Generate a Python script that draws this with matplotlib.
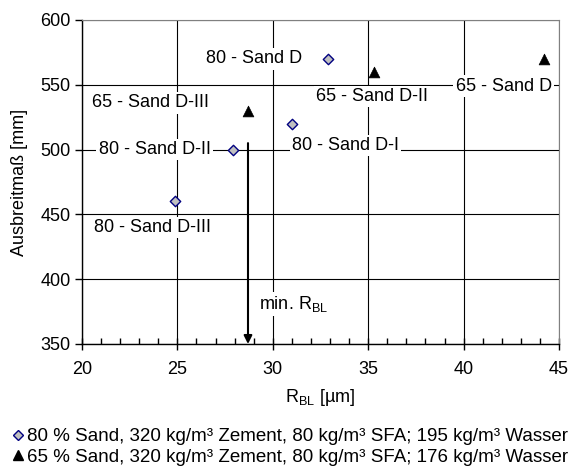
import matplotlib
matplotlib.use("Agg")
import matplotlib.pyplot as plt
from matplotlib.ticker import MultipleLocator
from matplotlib.lines import Line2D

plt.rcParams['font.family'] = ['Liberation Sans', 'DejaVu Sans']
plt.rcParams['mathtext.fontset'] = 'custom'
plt.rcParams['mathtext.rm'] = 'Liberation Sans'
plt.rcParams['mathtext.it'] = 'Liberation Sans'

# Mix with 80 % sand
names_80 = ["80 - Sand D", "80 - Sand D-I", "80 - Sand D-II", "80 - Sand D-III"]
rbl_80 = [32.9, 31.0, 27.9, 24.9]
spread_80 = [570, 520, 500, 460]

# Mix with 65 % sand
names_65 = ["65 - Sand D", "65 - Sand D-II", "65 - Sand D-III"]
rbl_65 = [44.2, 35.3, 28.7]
spread_65 = [570, 560, 530]

min_rbl = 28.7

legend_labels = [
    "80 % Sand, 320 kg/m³ Zement, 80 kg/m³ SFA; 195 kg/m³ Wasser",
    "65 % Sand, 320 kg/m³ Zement, 80 kg/m³ SFA; 176 kg/m³ Wasser",
]

# label anchor positions (data coordinates, centred)
label_pos = {
    "80 - Sand D": (29.0, 570),
    "80 - Sand D-I": (33.8, 503),
    "80 - Sand D-II": (23.8, 500),
    "80 - Sand D-III": (23.7, 440),
    "65 - Sand D": (42.1, 549),
    "65 - Sand D-II": (35.2, 541),
    "65 - Sand D-III": (23.6, 536),
}

FS = 13
fig = plt.figure(figsize=(5.72, 4.67), dpi=100)
ax = fig.add_axes([82 / 572, 1 - 344 / 467, (559 - 82) / 572, (344 - 20) / 467])

ax.set_xlim(20, 45)
ax.set_ylim(350, 600)
ax.xaxis.set_major_locator(MultipleLocator(5))
ax.xaxis.set_minor_locator(MultipleLocator(1))
ax.yaxis.set_major_locator(MultipleLocator(50))

ax.grid(True, which='major', color='black', linewidth=0.8, zorder=0)
ax.set_axisbelow(True)

for side in ('top', 'right'):
    ax.spines[side].set_color('#808080')
for side in ('left', 'bottom'):
    ax.spines[side].set_color('black')
    ax.spines[side].set_linewidth(1.0)

ax.tick_params(axis='x', which='major', direction='inout', length=8, width=1.0,
               labelsize=FS, pad=8)
ax.tick_params(axis='x', which='minor', direction='in', length=4, width=1.0)
ax.tick_params(axis='y', which='major', direction='out', length=5, width=1.0,
               labelsize=FS, pad=3)

ax.scatter(rbl_80, spread_80, marker='D', s=28, facecolor='#C0C0C0',
           edgecolor='#000080', linewidth=1.0, zorder=4)
ax.scatter(rbl_65, spread_65, marker='^', s=60, facecolor='black',
           edgecolor='black', linewidth=0.5, zorder=4)

for name in names_80 + names_65:
    x, y = label_pos[name]
    ax.text(x, y, name, fontsize=FS, ha='center', va='center', zorder=3,
            bbox=dict(facecolor='white', edgecolor='none', pad=1.5))

ax.annotate('', xy=(min_rbl, 350), xytext=(min_rbl, 505),
            arrowprops=dict(arrowstyle='-|>', color='black', lw=1.5,
                            mutation_scale=12, shrinkA=0, shrinkB=0), zorder=5)
ax.text(29.3, 381, r'min. R$_\mathregular{BL}$', fontsize=FS, ha='left',
        va='center', zorder=3,
        bbox=dict(facecolor='white', edgecolor='none', pad=1.5))

ax.set_xlabel(r'R$_\mathregular{BL}$ [µm]', fontsize=FS, labelpad=7)
ax.set_ylabel('Ausbreitmaß [mm]', fontsize=FS, labelpad=9)

handles = [
    Line2D([], [], marker='D', linestyle='none', markersize=5,
           markerfacecolor='#C0C0C0', markeredgecolor='#000080'),
    Line2D([], [], marker='^', linestyle='none', markersize=7,
           markerfacecolor='black', markeredgecolor='black'),
]
fig.legend(handles, legend_labels, loc='lower left', bbox_to_anchor=(-0.004, -0.03),
           frameon=False, fontsize=13.5, handlelength=0.6, handletextpad=0.15,
           labelspacing=0.2, borderpad=0.3)

fig.savefig('out.png', dpi=100)
